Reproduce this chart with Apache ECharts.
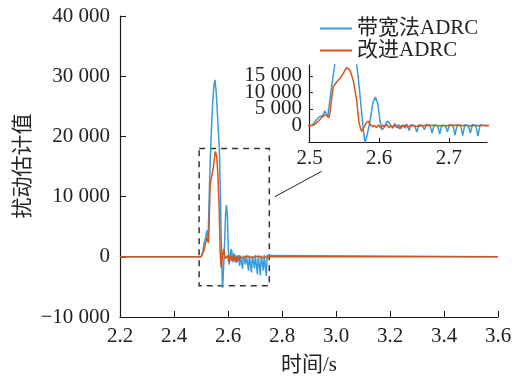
<!DOCTYPE html>
<html>
<head>
<meta charset="utf-8">
<script src="https://cdn.jsdelivr.net/npm/echarts@6/dist/echarts.min.js"></script>
<style>html,body{margin:0;padding:0;background:#fff;}#c{width:516px;height:376px;}</style>
</head>
<body>
<div id="c"></div>
<script>
// ---- data ----
const seriesNames = ['带宽法ADRC', '改进ADRC'];
const yAxisTitle = '扰动估计值';
const xAxisTitle = '时间/s';
const xTicks = [2.2, 2.4, 2.6, 2.8, 3.0, 3.2, 3.4, 3.6];
const yTicks = [-10000, 0, 10000, 20000, 30000, 40000];
const insetXTicks = [2.5, 2.6, 2.7];
const insetYTicks = [0, 5000, 10000, 15000];

const blueT = [2.2, 2.5, 2.503, 2.506, 2.509, 2.512, 2.515, 2.517, 2.519, 2.5215, 2.524, 2.526,
  2.529, 2.532, 2.536, 2.540, 2.544, 2.548, 2.552, 2.556, 2.560, 2.564, 2.568, 2.571, 2.574,
  2.577, 2.5795, 2.582, 2.585, 2.588, 2.591, 2.5945, 2.598, 2.601, 2.604, 2.607, 2.610, 2.613,
  2.616, 2.619, 2.622, 2.625, 2.628, 2.631, 2.634, 2.637, 2.640, 2.643, 2.646, 2.651, 2.654,
  2.657, 2.662, 2.665, 2.668, 2.673, 2.676, 2.679, 2.684, 2.687, 2.690, 2.695, 2.698, 2.701,
  2.706, 2.709, 2.712, 2.717, 2.720, 2.723, 2.728, 2.731, 2.734, 2.739, 2.742, 2.745, 2.749, 3.6];
const blueV = [0, 0, 0, 700, 1500, 2300, 2700, 3200, 3000, 4400, 3500, 2600,
  7700, 12500, 18300, 22500, 26000, 28500, 29400, 27500, 24500, 21000, 18000, 12000, 5500,
  -1000, -5200, -3500, -500, 3000, 7000, 8600, 6500, 1500, -1300, -600, 900, 1300,
  200, -900, 600, -700, 300, -1000, 200, -800, 300, -1500, 200, 0, -2000,
  200, 0, -1300, 300, 0, -2300, 200, -100, -2600, 100, 0, -1900, 300,
  0, -2900, 200, 100, -3100, 200, 0, -2300, 300, 0, -3200, 200, 0, 0];

const redT = [2.2, 2.5, 2.503, 2.507, 2.511, 2.515, 2.519, 2.522, 2.525, 2.5275, 2.529,
  2.531, 2.5337, 2.537, 2.541, 2.545, 2.548, 2.553, 2.558, 2.5626, 2.5675, 2.571, 2.5747,
  2.578, 2.581, 2.584, 2.587, 2.590, 2.593, 2.596, 2.599, 2.602, 2.605, 2.608, 2.611, 2.614,
  2.617, 2.620, 2.623, 2.626, 2.629, 2.632, 2.635, 2.638, 2.641, 2.644, 2.655, 2.670, 2.690,
  2.710, 2.730, 2.750, 3.6];
const redV = [0, 0, 0, 300, 1000, 1900, 2700, 3200, 3000, 2300, 3500,
  7000, 11700, 12700, 13700, 14700, 15700, 17500, 16700, 13700, 7700, 700, -1800,
  -600, 700, 1300, 400, -300, 0, -600, 200, -800, 100, -400, 300, -700,
  0, -500, 200, -400, -900, 0, -300, 200, -500, 0, -200, 100, -100,
  100, -100, 0, 0];

// annotation geometry (data coords of zoom box and connector)
const zoomBox = { x0: 2.493, x1: 2.753, y0: -4800, y1: 18000 };
const connector = [[2.774, 10000], [2.947, 14200]];
const insetRange = { xMin: 2.499, xMax: 2.755, yMin: -5000, yMax: 18300 };

// ---- build ----
const FONT = "'Liberation Serif','Times New Roman','Noto Sans CJK SC',serif";
const BLUE = '#3a9ad9', RED = '#d9541a', AX = '#1a1a1a', TXT = '#222';
const pair = (t, v) => t.map((x, i) => [x, v[i]]);
const blueData = pair(blueT, blueV);
const redData = pair(redT, redV);
function fmtNum(v) {
  if (Math.abs(v) < 1e-6) return '0';
  const s = String(Math.abs(Math.round(v))).replace(/\B(?=(\d{3})+(?!\d))/g, ' ');
  return (v < 0 ? '\u2212' : '') + s;
}
const lbl = { fontFamily: FONT, fontSize: 21, color: TXT };
// inset y labels are split over two coincident axes (alternate ticks) so none get auto-hidden
const insetYLabelsA = insetYTicks.filter((v, i) => i % 2 === 0);
const insetYLabelsB = insetYTicks.filter((v, i) => i % 2 === 1);

const chart = echarts.init(document.getElementById('c'), null, { renderer: 'canvas' });
chart.setOption({
  animation: false,
  backgroundColor: '#fff',
  textStyle: { fontFamily: FONT },
  legend: {
    data: seriesNames.map(n => ({ name: n, icon: 'rect' })),
    orient: 'vertical',
    left: 320, top: 18, padding: 0,
    itemWidth: 32, itemHeight: 2, itemGap: 1,
    textStyle: { fontFamily: FONT, fontSize: 21, color: TXT }
  },
  graphic: [{
    type: 'text', x: 23, y: 166, rotation: Math.PI / 2, silent: true,
    style: { text: yAxisTitle, font: "21px 'Liberation Serif','Noto Sans CJK SC',serif", fill: TXT, align: 'center', verticalAlign: 'middle' }
  }],
  grid: [
    { left: 120, top: 16, width: 378, height: 301, containLabel: false, outerBoundsMode: 'none' },
    { left: 309, top: 65, width: 178, height: 77, containLabel: false, outerBoundsMode: 'none' }
  ],
  xAxis: [
    {
      gridIndex: 0, type: 'value', min: xTicks[0], max: xTicks[xTicks.length - 1], interval: 0.2,
      name: xAxisTitle, nameLocation: 'middle', nameGap: 38, nameMoveOverlap: false,
      nameTextStyle: { fontFamily: FONT, fontSize: 21, color: TXT },
      axisLine: { onZero: false, lineStyle: { color: AX, width: 1.2 } },
      axisTick: { inside: true, length: 6, lineStyle: { color: AX } },
      axisLabel: Object.assign({ margin: 9, formatter: v => v.toFixed(1) }, lbl),
      splitLine: { show: false }
    },
    {
      gridIndex: 1, type: 'value', min: insetRange.xMin, max: insetRange.xMax,
      axisLine: { onZero: false, lineStyle: { color: AX, width: 1.2 } },
      axisTick: { inside: true, length: 4, lineStyle: { color: AX }, customValues: insetXTicks },
      axisLabel: Object.assign({ margin: 6, customValues: insetXTicks, formatter: v => v.toFixed(1) }, lbl),
      splitLine: { show: false }
    }
  ],
  yAxis: [
    {
      gridIndex: 0, type: 'value', min: yTicks[0], max: yTicks[yTicks.length - 1], interval: 10000,
      axisLine: { show: true, onZero: false, lineStyle: { color: AX, width: 1.2 } },
      axisTick: { show: true, inside: true, length: 6, lineStyle: { color: AX } },
      axisLabel: Object.assign({ margin: 10, formatter: fmtNum }, lbl),
      splitLine: { show: false }
    },
    {
      gridIndex: 1, type: 'value', min: insetRange.yMin, max: insetRange.yMax, position: 'left', offset: 0,
      axisLine: { show: true, onZero: false, lineStyle: { color: AX, width: 1.2 } },
      axisTick: { show: true, inside: true, length: 4, lineStyle: { color: AX }, customValues: insetYTicks },
      axisLabel: Object.assign({ margin: 7, customValues: insetYLabelsA, formatter: fmtNum }, lbl),
      splitLine: { show: false }
    },
    {
      gridIndex: 1, type: 'value', min: insetRange.yMin, max: insetRange.yMax, position: 'left', offset: 0,
      axisLine: { show: false, onZero: false },
      axisTick: { show: false },
      axisLabel: Object.assign({ margin: 7, customValues: insetYLabelsB, formatter: fmtNum }, lbl),
      splitLine: { show: false }
    }
  ],
  series: [
    {
      name: seriesNames[0], type: 'line', xAxisIndex: 0, yAxisIndex: 0, data: blueData,
      symbol: 'none', color: BLUE, lineStyle: { width: 1.5, color: BLUE },
      markArea: {
        silent: true,
        itemStyle: { color: 'rgba(0,0,0,0)', borderColor: '#333', borderWidth: 1.5, borderType: [6, 5] },
        data: [[{ coord: [zoomBox.x0, zoomBox.y1] }, { coord: [zoomBox.x1, zoomBox.y0] }]]
      },
      markLine: {
        silent: true, symbol: 'none', label: { show: false },
        lineStyle: { color: '#222', width: 1, type: 'solid' },
        data: [[{ coord: connector[0] }, { coord: connector[1] }]]
      }
    },
    {
      name: seriesNames[1], type: 'line', xAxisIndex: 0, yAxisIndex: 0, data: redData,
      symbol: 'none', color: RED, lineStyle: { width: 1.5, color: RED }
    },
    {
      name: seriesNames[0], type: 'line', xAxisIndex: 1, yAxisIndex: 1, data: blueData,
      symbol: 'none', color: BLUE, lineStyle: { width: 1.5, color: BLUE }, clip: true
    },
    {
      name: seriesNames[1], type: 'line', xAxisIndex: 1, yAxisIndex: 1, data: redData,
      symbol: 'none', color: RED, lineStyle: { width: 1.5, color: RED }, clip: true
    }
  ]
});
</script>
</body>
</html>
